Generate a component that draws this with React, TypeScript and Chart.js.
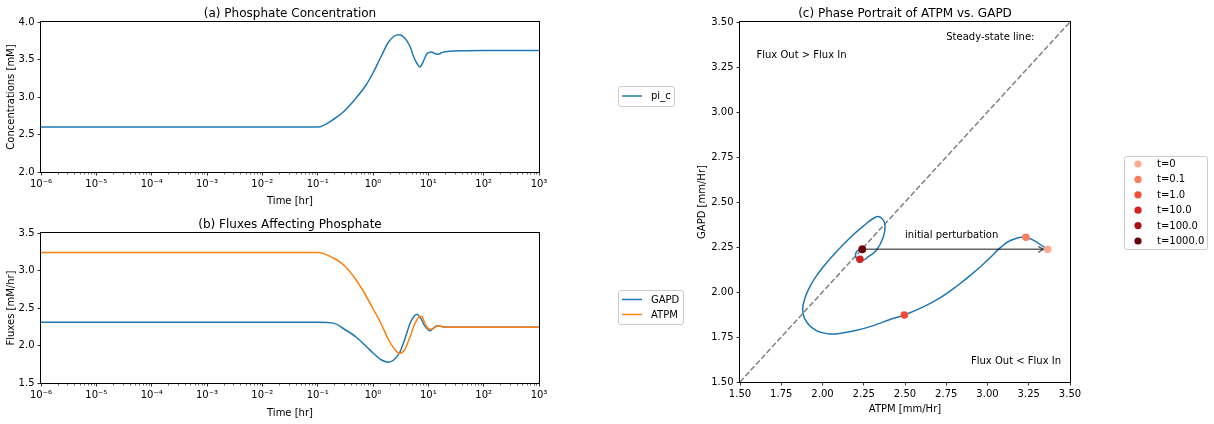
import React, { useEffect, useRef } from "react";
import { Chart, registerables } from "chart.js";

Chart.register(...registerables);

const FONT = "'DejaVu Sans', 'Liberation Sans', sans-serif";
const BLUE = "#1f77b4";
const ORANGE = "#ff7f0e";

// ---- time-course data ----
const timeHr = [1e-6, 0.1, 0.2, 0.3, 0.5, 0.75, 1, 1.4, 1.9, 2.4, 3.0, 3.7, 4.7, 5.4, 6.2, 7.0, 7.6, 8.3, 9.3, 10.5, 11.5, 13, 15, 18, 25, 45, 100, 1000];
const piC = [2.60, 2.60, 2.71, 2.81, 2.99, 3.16, 3.32, 3.54, 3.73, 3.81, 3.83, 3.79, 3.67, 3.54, 3.45, 3.40, 3.43, 3.49, 3.57, 3.595, 3.60, 3.58, 3.57, 3.595, 3.61, 3.617, 3.62, 3.62];
const gapdFlux = [2.31, 2.31, 2.295, 2.22, 2.11, 1.99, 1.90, 1.81, 1.776, 1.81, 1.90, 2.07, 2.30, 2.38, 2.416, 2.38, 2.34, 2.28, 2.23, 2.197, 2.21, 2.245, 2.262, 2.25, 2.245, 2.245, 2.245, 2.245];
const atpmFlux = [3.24, 3.24, 3.16, 3.07, 2.87, 2.66, 2.49, 2.29, 2.08, 1.96, 1.896, 1.94, 2.12, 2.25, 2.34, 2.388, 2.388, 2.33, 2.25, 2.22, 2.216, 2.24, 2.264, 2.25, 2.245, 2.245, 2.245, 2.245];

// ---- phase portrait trajectory ----
const phaseATPM = [3.365, 3.233, 3.136, 3.076, 3.015, 2.914, 2.813, 2.712, 2.611, 2.496, 2.409, 2.308, 2.207, 2.120, 2.045, 1.963, 1.902, 1.880, 1.895, 1.924, 1.960, 2.005, 2.066, 2.167, 2.247, 2.328, 2.362, 2.379, 2.369, 2.328, 2.278, 2.247, 2.207, 2.201, 2.217, 2.241];
const phaseGAPD = [2.237, 2.304, 2.285, 2.245, 2.190, 2.106, 2.032, 1.967, 1.917, 1.872, 1.847, 1.813, 1.787, 1.772, 1.767, 1.785, 1.835, 1.902, 1.970, 2.030, 2.085, 2.140, 2.205, 2.301, 2.366, 2.418, 2.407, 2.372, 2.307, 2.233, 2.196, 2.178, 2.187, 2.215, 2.233, 2.237];

const markerLabels = ["t=0", "t=0.1", "t=1.0", "t=10.0", "t=100.0", "t=1000.0"];
const markerATPM = [3.365, 3.233, 2.496, 2.227, 2.241, 2.241];
const markerGAPD = [2.237, 2.304, 1.872, 2.182, 2.237, 2.237];
const markerColors = ["#fcab8e", "#fb7d5d", "#f34c37", "#d42121", "#aa1016", "#67000d"];

const steadyLine = [1.5, 3.5];
const arrowFrom = [2.241, 2.237];
const arrowTo = [3.338, 2.237];

const noteTexts = ["Steady-state line:", "Flux Out > Flux In", "Flux Out < Flux In", "initial perturbation"];
const noteX = [2.75, 1.6, 2.9, 2.5];
const noteY = [3.4, 3.3, 1.6, 2.3];

const logTickExps = [-6, -5, -4, -3, -2, -1, 0, 1, 2, 3];

const SUP: Record<string, string> = { "-": "\u207B", "0": "\u2070", "1": "\u00B9", "2": "\u00B2", "3": "\u00B3", "4": "\u2074", "5": "\u2075", "6": "\u2076", "7": "\u2077", "8": "\u2078", "9": "\u2079" };
const powLabel = (v: number) =>
  "10" + String(Math.round(Math.log10(v))).split("").map((c) => SUP[c]).join("");

const mplPlugin = {
  id: "mpl",
  afterDraw(chart: any, _args: any, o: any) {
    const { ctx, chartArea: a } = chart;
    ctx.save();
    // axes frame
    ctx.strokeStyle = "#000";
    ctx.lineWidth = 1;
    ctx.strokeRect(Math.round(a.left) - 0.5, Math.round(a.top) - 0.5, Math.round(a.right - a.left) + 1, Math.round(a.bottom - a.top) + 1);
    // minor ticks for log axis
    const xs = chart.scales.x;
    if (xs.type === "logarithmic") {
      ctx.lineWidth = 0.6;
      ctx.beginPath();
      for (let e = logTickExps[0]; e < logTickExps[logTickExps.length - 1]; e++) {
        for (let m = 2; m <= 9; m++) {
          const px = Math.round(xs.getPixelForValue(m * Math.pow(10, e))) + 0.5;
          ctx.moveTo(px, a.bottom + 0.5);
          ctx.lineTo(px, a.bottom + 2.5);
        }
      }
      ctx.stroke();
    }
    // title
    ctx.fillStyle = "#000";
    ctx.font = `12px ${FONT}`;
    ctx.textAlign = "center";
    ctx.textBaseline = "alphabetic";
    ctx.fillText(o.title, (a.left + a.right) / 2, a.top - 5.5);
    // notes in data coordinates
    if (o.notes) {
      const ys = chart.scales.y;
      ctx.font = `10px ${FONT}`;
      ctx.textAlign = "left";
      o.notes.forEach((t: string, i: number) => {
        ctx.fillText(t, xs.getPixelForValue(noteX[i]), ys.getPixelForValue(noteY[i]));
      });
    }
    // arrow head
    if (o.arrow) {
      const ys = chart.scales.y;
      const x1 = xs.getPixelForValue(arrowTo[0]);
      const y1 = ys.getPixelForValue(arrowTo[1]);
      ctx.strokeStyle = "rgba(0,0,0,0.6)";
      ctx.lineWidth = 1.5;
      ctx.beginPath();
      ctx.moveTo(x1 - 5, y1 - 3);
      ctx.lineTo(x1, y1);
      ctx.lineTo(x1 - 5, y1 + 3);
      ctx.stroke();
    }
    // legend
    if (o.legend) {
      const L = o.legend;
      ctx.fillStyle = "rgba(255,255,255,0.8)";
      ctx.strokeStyle = "#cccccc";
      ctx.lineWidth = 1;
      ctx.beginPath();
      (ctx as any).roundRect(L.x + 0.5, L.y + 0.5, L.w, L.h, 2.5);
      ctx.fill();
      ctx.stroke();
      const n = L.items.length;
      const y0 = L.y + (L.h - (n - 1) * L.pitch) / 2;
      L.items.forEach((it: any, i: number) => {
        const cy = y0 + i * L.pitch;
        if (it.kind === "line") {
          ctx.strokeStyle = it.color;
          ctx.lineWidth = 1.5;
          ctx.beginPath();
          ctx.moveTo(L.x + 4, cy);
          ctx.lineTo(L.x + 24, cy);
          ctx.stroke();
        } else {
          ctx.fillStyle = it.color;
          ctx.beginPath();
          ctx.arc(L.x + 14, cy, 3.6, 0, Math.PI * 2);
          ctx.fill();
        }
        ctx.fillStyle = "#000";
        ctx.font = `10px ${FONT}`;
        ctx.textAlign = "left";
        ctx.textBaseline = "middle";
        ctx.fillText(it.label, L.x + L.tx, cy + 0.5);
      });
    }
    ctx.restore();
  },
};

const tickFont = { family: FONT, size: 10 };
const gridTicksOnly = { display: true, drawOnChartArea: false, drawTicks: true, tickLength: 3.5, tickColor: "#000", tickWidth: 0.8 };

function logX(height: number, titlePadBottom: number) {
  return {
    type: "logarithmic",
    min: 1e-6,
    max: 1e3,
    afterBuildTicks: (s: any) => {
      s.ticks = logTickExps.map((e) => ({ value: Math.pow(10, e) }));
    },
    afterFit: (s: any) => {
      s.height = height;
    },
    border: { display: false },
    grid: gridTicksOnly,
    ticks: { autoSkip: false, maxRotation: 0, padding: 3, color: "#000", font: tickFont, callback: (v: any) => powLabel(Number(v)) },
    title: { display: true, text: "Time [hr]", color: "#000", font: tickFont, padding: { top: 0, bottom: titlePadBottom } },
  };
}

function linY(min: number, max: number, step: number, dec: number, width: number, label: string, titlePadTop: number) {
  return {
    type: "linear",
    min,
    max,
    afterFit: (s: any) => {
      s.width = width;
    },
    border: { display: false },
    grid: gridTicksOnly,
    ticks: { stepSize: step, autoSkip: false, padding: 3, color: "#000", font: tickFont, callback: (v: any) => Number(v).toFixed(dec) },
    title: { display: true, text: label, color: "#000", font: tickFont, padding: { top: titlePadTop, bottom: 0 } },
  };
}

const pts = (xs: number[], ys: number[]) => xs.map((x, i) => ({ x, y: ys[i] }));

export default function App() {
  const refA = useRef<HTMLCanvasElement>(null);
  const refB = useRef<HTMLCanvasElement>(null);
  const refC = useRef<HTMLCanvasElement>(null);

  useEffect(() => {
    Chart.defaults.font.family = FONT;
    Chart.defaults.color = "#000";
    const common = {
      animation: false,
      responsive: false,
      events: [],
    };
    const lineDs = (label: string, data: any, color: string) => ({
      label,
      data,
      borderColor: color,
      backgroundColor: color,
      borderWidth: 1.5,
      pointRadius: 0,
      showLine: true,
      fill: false,
      cubicInterpolationMode: "monotone",
    });

    const chartA = new Chart(refA.current as HTMLCanvasElement, {
      type: "scatter",
      data: { datasets: [lineDs("pi_c", pts(timeHr, piC), BLUE)] },
      options: {
        ...common,
        layout: { padding: { left: 0, top: 22, right: 675, bottom: 212 } },
        scales: { x: logX(40, 5), y: linY(2, 4, 0.5, 1, 41, "Concentrations [mM]", 5) },
        plugins: {
          legend: { display: false },
          tooltip: { enabled: false },
          mpl: {
            title: "(a) Phosphate Concentration",
            legend: { x: 618, y: 86, w: 56, h: 20, pitch: 15, tx: 33, items: [{ label: "pi_c", color: BLUE, kind: "line" }] },
          },
        },
      } as any,
      plugins: [mplPlugin],
    } as any);

    const chartB = new Chart(refB.current as HTMLCanvasElement, {
      type: "scatter",
      data: {
        datasets: [lineDs("ATPM", pts(timeHr, atpmFlux), ORANGE), lineDs("GAPD", pts(timeHr, gapdFlux), BLUE)].map((d, i) => ({ ...d, order: i })),
      },
      options: {
        ...common,
        layout: { padding: { left: 0, top: 233, right: 675, bottom: 0 } },
        scales: { x: logX(41, 5), y: linY(1.5, 3.5, 0.5, 1, 41, "Fluxes [mM/hr]", 5) },
        plugins: {
          legend: { display: false },
          tooltip: { enabled: false },
          mpl: {
            title: "(b) Fluxes Affecting Phosphate",
            legend: {
              x: 618, y: 290, w: 65, h: 34, pitch: 15, tx: 33,
              items: [
                { label: "GAPD", color: BLUE, kind: "line" },
                { label: "ATPM", color: ORANGE, kind: "line" },
              ],
            },
          },
        },
      } as any,
      plugins: [mplPlugin],
    } as any);

    const chartC = new Chart(refC.current as HTMLCanvasElement, {
      type: "scatter",
      data: {
        datasets: [
          {
            label: "markers",
            data: pts(markerATPM, markerGAPD),
            pointRadius: 3.8,
            pointBackgroundColor: markerColors,
            pointBorderWidth: 0,
            showLine: false,
            order: 1,
          },
          {
            label: "arrow",
            data: pts([arrowFrom[0], arrowTo[0]], [arrowFrom[1], arrowTo[1]]),
            borderColor: "rgba(0,0,0,0.6)",
            borderWidth: 1.5,
            pointRadius: 0,
            showLine: true,
            order: 2,
          },
          {
            label: "trajectory",
            data: pts(phaseATPM, phaseGAPD),
            borderColor: BLUE,
            borderWidth: 1.5,
            pointRadius: 0,
            showLine: true,
            tension: 0.4,
            order: 3,
          },
          {
            label: "steady",
            data: pts(steadyLine, steadyLine),
            borderColor: "#808080",
            borderWidth: 1.5,
            borderDash: [5.5, 2.4],
            pointRadius: 0,
            showLine: true,
            order: 4,
          },
        ],
      },
      options: {
        ...common,
        layout: { padding: { left: 690, top: 22, right: 144, bottom: 7 } },
        scales: {
          x: {
            type: "linear",
            min: 1.5,
            max: 3.5,
            afterFit: (s: any) => {
              s.height = 35;
            },
            border: { display: false },
            grid: gridTicksOnly,
            ticks: { stepSize: 0.25, autoSkip: false, maxRotation: 0, padding: 3, color: "#000", font: tickFont, callback: (v: any) => Number(v).toFixed(2) },
            title: { display: true, text: "ATPM [mm/Hr]", color: "#000", font: tickFont, padding: { top: 0, bottom: 2 } },
          },
          y: linY(1.5, 3.5, 0.25, 2, 50, "GAPD [mm/Hr]", 6),
        },
        plugins: {
          legend: { display: false },
          tooltip: { enabled: false },
          mpl: {
            title: "(c) Phase Portrait of ATPM vs. GAPD",
            notes: noteTexts,
            arrow: true,
            legend: {
              x: 1124, y: 156, w: 83, h: 93, pitch: 15.4, tx: 33,
              items: markerLabels.map((l, i) => ({ label: l, color: markerColors[i], kind: "dot" })),
            },
          },
        },
      } as any,
      plugins: [mplPlugin],
    } as any);

    return () => {
      chartA.destroy();
      chartB.destroy();
      chartC.destroy();
    };
  }, []);

  const cv: React.CSSProperties = { position: "absolute", left: 0, top: 0 };
  return (
    <div style={{ position: "fixed", left: 0, top: 0, width: 1214, height: 424, background: "#fff", overflow: "hidden" }}>
      <canvas ref={refA} width={1214} height={424} style={cv} />
      <canvas ref={refB} width={1214} height={424} style={cv} />
      <canvas ref={refC} width={1214} height={424} style={cv} />
    </div>
  );
}
